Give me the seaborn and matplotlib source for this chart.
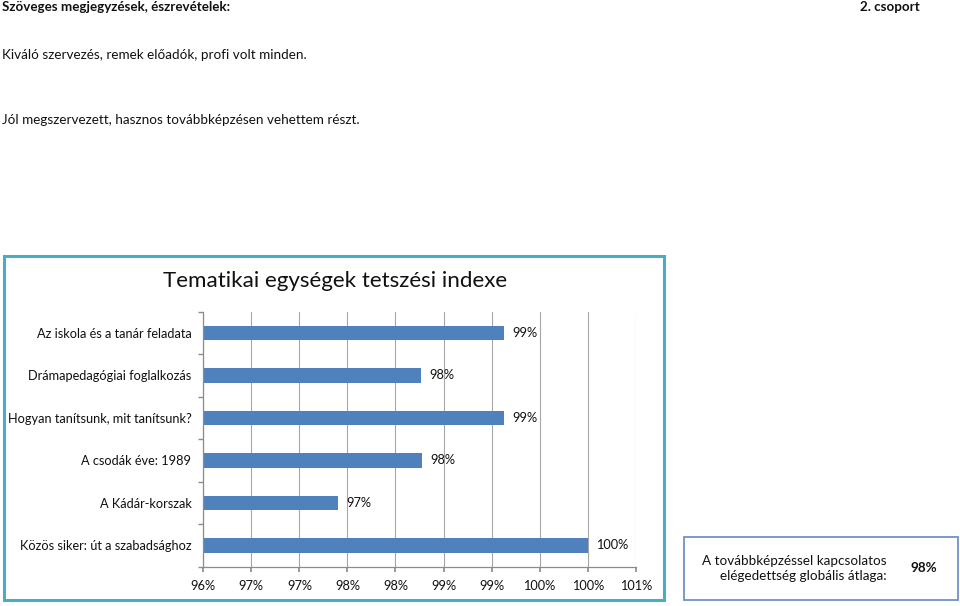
import numpy as np
import pandas as pd
import matplotlib
matplotlib.use("Agg")
import matplotlib.pyplot as plt
from matplotlib.patches import Rectangle
import seaborn as sns

# ---- data ----
categories = [
    "Az iskola és a tanár feladata",
    "Drámapedagógiai foglalkozás",
    "Hogyan tanítsunk, mit tanítsunk?",
    "A csodák éve: 1989",
    "A Kádár-korszak",
    "Közös siker: út a szabadsághoz",
]
values = [99.13, 98.27, 99.13, 98.28, 97.40, 100.0]
value_labels = ["99%", "98%", "99%", "98%", "97%", "100%"]
x_ticks = [96.0, 96.5, 97.0, 97.5, 98.0, 98.5, 99.0, 99.5, 100.0, 100.5]
x_tick_labels = ["96%", "97%", "97%", "98%", "98%", "99%", "99%", "100%", "100%", "101%"]
chart_title = "Tematikai egységek tetszési indexe"
header_left = "Szöveges megjegyzések, észrevételek:"
header_right = "2. csoport"
comments = [
    "Kiváló szervezés, remek előadók, profi volt minden.",
    "Jól megszervezett, hasznos továbbképzésen vehettem részt.",
]
global_label = "A továbbképzéssel kapcsolatos\nelégedettség globális átlaga:"
global_value = "98%"

df = pd.DataFrame({"category": categories, "value": values})

sns.set_theme(style="white")
FONT = ["Lato", "DejaVu Sans"]
plt.rcParams["font.family"] = FONT
plt.rcParams["text.color"] = "#111111"

W, H = 960, 606
fig = plt.figure(figsize=(9.6, 6.06), dpi=100)
fig.patch.set_facecolor("white")

def fx(px):
    return px / W

def fy(py):
    return 1 - py / H

# chart frame
fig.add_artist(Rectangle((fx(4), fy(600)), fx(660), (596 - 256 + 4) / H,
                         transform=fig.transFigure, fill=False,
                         edgecolor="#4BACC6", linewidth=2.2))

# axes
ax_left, ax_right, ax_top, ax_bottom = 203.3, 635.7, 311.7, 566.7
ax = fig.add_axes([fx(ax_left), fy(ax_bottom), fx(ax_right - ax_left), (ax_bottom - ax_top) / H])

sns.barplot(data=df, x="value", y="category", color="#4F81BD", orient="h",
            width=0.35, linewidth=0, saturation=1, ax=ax)

ax.set_xlim(96, 100.5)
ax.set_xticks(x_ticks)
ax.set_xticklabels(x_tick_labels)
ax.set_xlabel("")
ax.set_ylabel("")
ax.set_ylim(5.5, -0.5)

grid_col = "#A6A6A6"
ax.grid(axis="x", color=grid_col, linewidth=0.8)
ax.set_axisbelow(True)
for s in ["top", "right"]:
    ax.spines[s].set_visible(False)
for s in ["left", "bottom"]:
    ax.spines[s].set_color("#8C8C8C")
    ax.spines[s].set_linewidth(0.9)

TICK_FS = 9.2
ax.tick_params(axis="x", which="major", length=3.5, color="#8C8C8C", direction="out",
               labelsize=TICK_FS, pad=6, bottom=True, labelcolor="#111111")
ax.tick_params(axis="y", which="major", length=0, labelsize=TICK_FS, pad=8.5,
               labelcolor="#111111")
ax.set_yticks(np.arange(-0.5, 6, 1), minor=True)
ax.tick_params(axis="y", which="minor", length=3.5, color="#8C8C8C", direction="out", left=True)

ax.bar_label(ax.containers[0], labels=value_labels, padding=6, fontsize=TICK_FS,
             color="#111111")

# chart title
fig.text(fx(335), fy(281), chart_title, ha="center", va="center", fontsize=16.1)

# header texts
TXT_FS = 9.7
fig.text(fx(2), fy(7), header_left, ha="left", va="center", fontsize=9.6, fontweight="bold")
fig.text(fx(920), fy(7), header_right, ha="right", va="center", fontsize=9.6, fontweight="bold")
fig.text(fx(2), fy(55), comments[0], ha="left", va="center", fontsize=TXT_FS)
fig.text(fx(2), fy(120), comments[1], ha="left", va="center", fontsize=TXT_FS)

# global average box
fig.add_artist(Rectangle((fx(684), fy(600)), fx(958 - 684), (600 - 537) / H,
                         transform=fig.transFigure, fill=False,
                         edgecolor="#6F92C8", linewidth=1.3))
fig.text(fx(887), fy(568.5), global_label, ha="right", va="center", fontsize=TXT_FS,
         multialignment="right", linespacing=1.3)
fig.text(fx(924), fy(568), global_value, ha="center", va="center", fontsize=TXT_FS,
         fontweight="bold")

fig.savefig("out.png", dpi=100, facecolor="white")
